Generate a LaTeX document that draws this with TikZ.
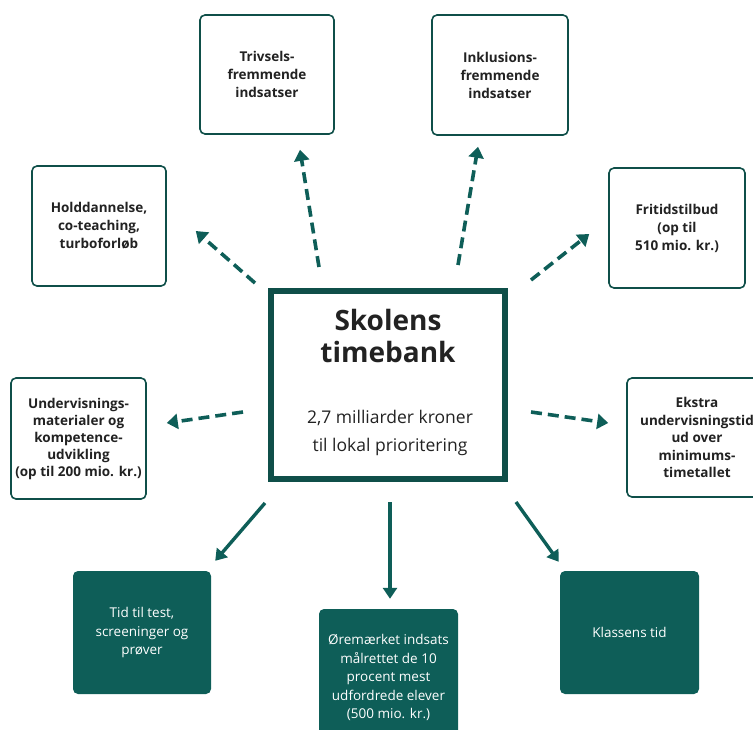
\documentclass[tikz,border=0pt]{standalone}
\usepackage{fontspec}
\setmainfont{Open Sans}
\usepackage{tikz}
\usetikzlibrary{calc}
\usetikzlibrary{arrows.meta}
\definecolor{teal}{HTML}{0E5E58}
\definecolor{tealdark}{HTML}{0F4F49}
\definecolor{ink}{HTML}{222222}
\tikzstyle{every node}=[font=\fontsize{13.5}{18}\selectfont, align=center]
\tikzstyle{whitebox}=[draw=tealdark, line width=1.6pt, rounded corners=5pt, fill=white, text=ink, inner sep=1pt, font=\fontsize{13.5}{18}\selectfont\bfseries]
\tikzstyle{greenbox}=[fill=teal, rounded corners=5pt, text=white, inner sep=1pt, font=\fontsize{13.5}{18.5}\selectfont]
\tikzstyle{dasharr}=[draw=teal, line width=3.6pt, dash pattern=on 11pt off 6pt, -{Triangle[width=15pt,length=11pt]}]
\tikzstyle{solidarr}=[draw=teal, line width=3.4pt, -{Triangle[width=14pt,length=11pt]}]

\begin{document}
\begin{tikzpicture}[x=1pt,y=-1pt]
            \useasboundingbox (0,0) rectangle (753,729);
            \node[draw=tealdark, line width=6pt, minimum width=234pt, minimum height=188pt] (ctr) at (388,385) {};
            \node[font=\fontsize{28}{32}\selectfont\bfseries, text=ink] (title) at (388,336) {Skolens\\timebank};
            \node[font=\fontsize{17.5}{28}\selectfont, text=ink] (sub) at (390,433) {2,7 milliarder kroner\\til lokal prioritering};
            \node[whitebox, minimum width=134pt, minimum height=119pt] (triv) at (267,74.5) {Trivsels-\\fremmende\\indsatser};
            \node[whitebox, minimum width=136pt, minimum height=120pt] (inkl) at (500,75) {Inklusions-\\fremmende\\indsatser};
            \node[whitebox, minimum width=134pt, minimum height=120pt] (hold) at (99,226) {Holddannelse,\\co-teaching,\\turboforløb};
            \node[whitebox, minimum width=136pt, minimum height=120pt] (frit) at (677,228) {Fritidstilbud\\(op til\\510 mio. kr.)};
            \node[whitebox, minimum width=135pt, minimum height=121pt, font=\fontsize{13.5}{17}\selectfont\bfseries] (underv) at (78.5,438.5) {Undervisnings-\\materialer og\\kompetence-\\udvikling\\(op til 200 mio. kr.)};
            \node[whitebox, minimum width=140pt, minimum height=119pt, font=\fontsize{13.5}{17.5}\selectfont\bfseries] (ekstra) at (697,437.5) {Ekstra\\undervisningstid\\ud over\\minimums-\\timetallet};
            \node[greenbox, minimum width=138pt, minimum height=123pt] (test) at (142,632.5) {Tid til test,\\screeninger og\\prøver};
            \node[greenbox, minimum width=139pt, minimum height=137pt] (oere) at (388.5,677.5) {Øremærket indsats\\målrettet de 10\\procent mest\\udfordrede elever\\(500 mio. kr.)};
            \node[greenbox, minimum width=139pt, minimum height=123pt] (klas) at (629.5,632.5) {Klassens tid};
            % dashed arrows
            \draw[dasharr] ($(ctr.north)+(-69,-21)$) -- ($(triv.south)+(33,15)$);
            \draw[dasharr] ($(ctr.north west)+(-13,-5)$) -- ($(hold.east)+(29,5)$);
            \draw[dasharr] ($(ctr.north)+(70,-23)$) -- ($(inkl.south)+(-22,11)$);
            \draw[dasharr] ($(ctr.north east)+(23,-8)$) -- ($(frit.west)+(-19,6)$);
            \draw[dasharr] ($(ctr.west)+(-25,27)$) -- ($(underv.east)+(20,-15.5)$);
            \draw[dasharr] ($(ctr.east)+(23,27)$) -- ($(ekstra.west)+(-18,-14.5)$);
            % solid arrows
            \draw[solidarr] ($(ctr.south west)+(-3,21)$) -- ($(test.north east)+(4,-10)$);
            \draw[solidarr] ($(ctr.south)+(2,20)$) -- ($(oere.north)+(1.5,-10)$);
            \draw[solidarr] ($(ctr.south east)+(8,20)$) -- ($(klas.north west)+(-1,-9)$);
        \end{tikzpicture}
\end{document}
